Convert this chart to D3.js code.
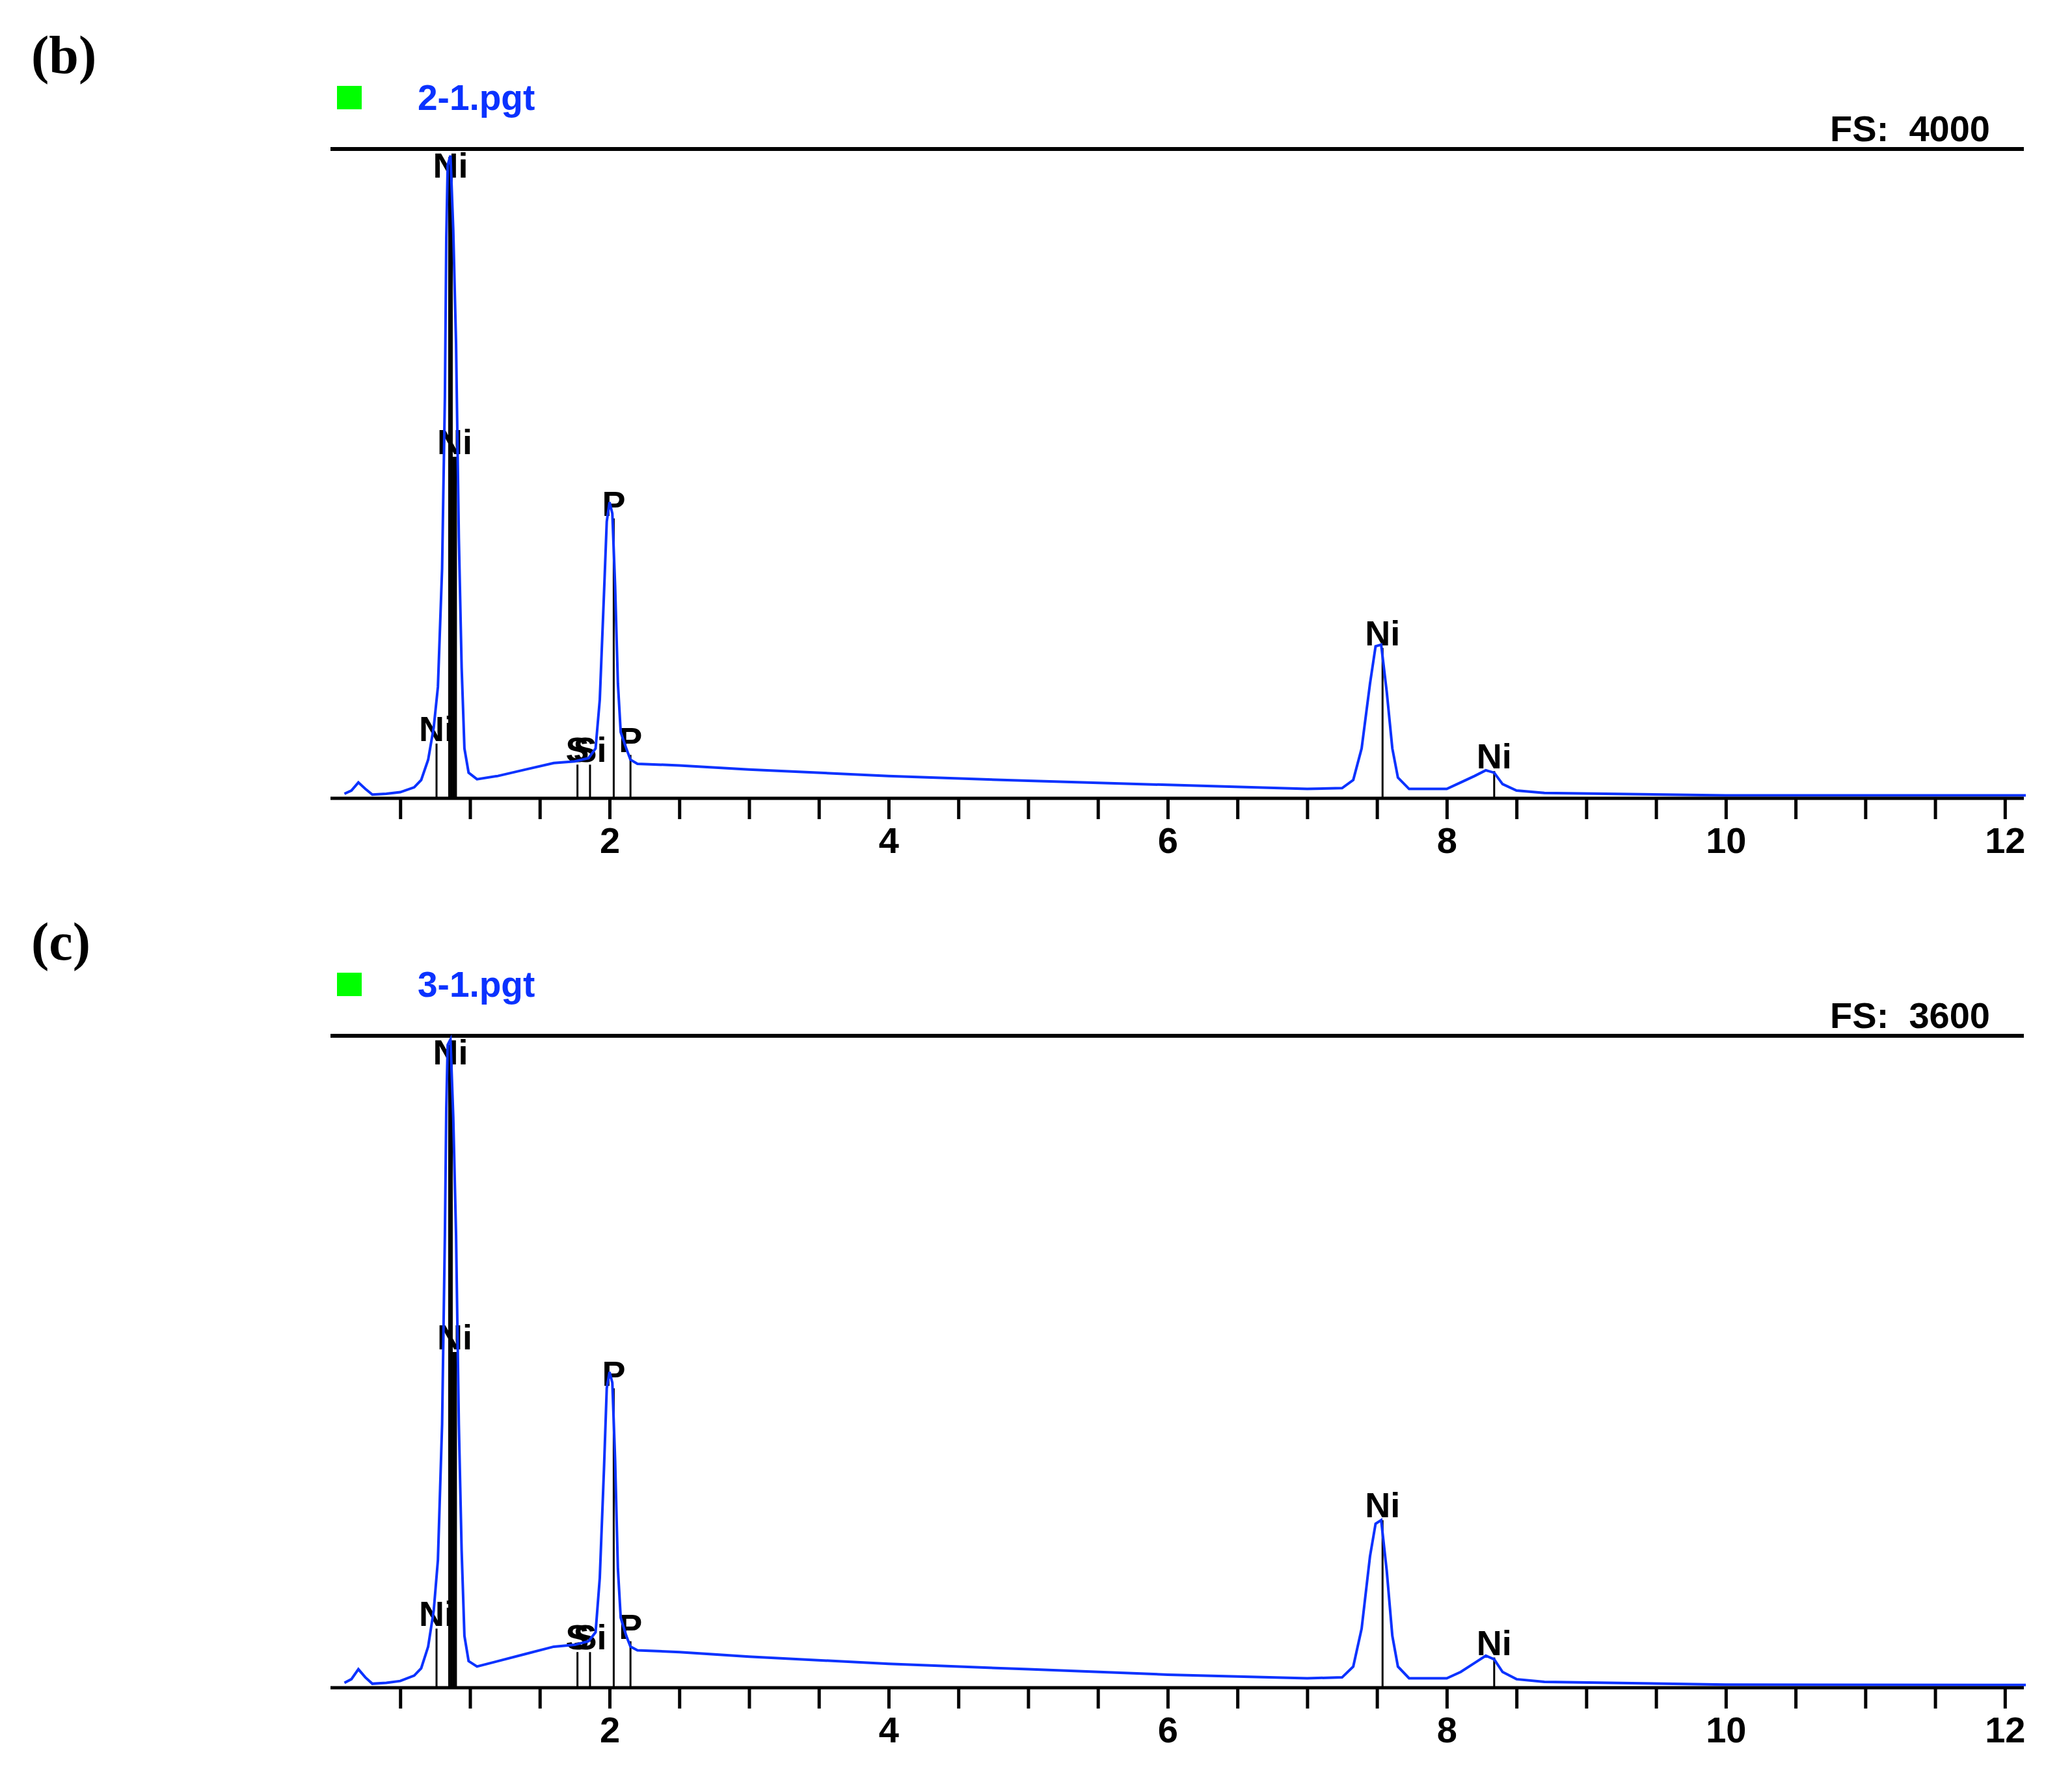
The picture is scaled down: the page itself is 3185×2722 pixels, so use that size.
<!DOCTYPE html>
<html><head><meta charset="utf-8">
<script src="https://cdn.jsdelivr.net/npm/d3@7"></script>
<style>body{margin:0;background:#fff}</style>
</head><body>
<svg id="chart" width="3185" height="2722"></svg>
<script>
// spectrum (b): [keV, counts]
const specB = [[0.1,20],[0.15,40],[0.2,90],[0.25,50],[0.3,15],[0.4,20],[0.5,30],[0.6,60],[0.65,105],[0.7,230],[0.74,430],[0.77,680],[0.8,1410],[0.82,2470],[0.83,3450],[0.84,3900],[0.86,3960],[0.88,3500],[0.9,2800],[0.92,1600],[0.94,800],[0.96,300],[0.99,150],[1.05,110],[1.2,130],[1.4,170],[1.6,210],[1.75,220],[1.85,240],[1.9,300],[1.93,600],[1.96,1250],[1.98,1700],[2.0,1820],[2.02,1750],[2.04,1300],[2.06,700],[2.08,400],[2.12,300],[2.15,230],[2.2,205],[2.5,195],[3.0,170],[4.0,130],[5.0,100],[6.0,75],[7.0,50],[7.25,55],[7.33,105],[7.39,300],[7.45,700],[7.49,930],[7.53,940],[7.57,650],[7.61,300],[7.65,120],[7.73,50],[8.0,50],[8.1,90],[8.2,130],[8.28,165],[8.34,150],[8.4,80],[8.5,40],[8.7,25],[10,10],[12.15,10]];
// spectrum (c)
const specC = [[0.1,20],[0.15,40],[0.2,95],[0.25,50],[0.3,15],[0.4,20],[0.5,30],[0.6,60],[0.65,100],[0.7,220],[0.74,420],[0.77,700],[0.8,1450],[0.82,2500],[0.83,3200],[0.84,3550],[0.86,3580],[0.88,3150],[0.9,2500],[0.92,1450],[0.94,750],[0.96,280],[0.99,140],[1.05,110],[1.2,140],[1.4,180],[1.6,220],[1.75,230],[1.85,250],[1.9,300],[1.93,600],[1.96,1200],[1.98,1650],[2.0,1740],[2.02,1680],[2.04,1250],[2.06,650],[2.08,380],[2.12,280],[2.15,220],[2.2,200],[2.5,190],[3.0,165],[4.0,125],[5.0,95],[6.0,65],[7.0,45],[7.25,50],[7.33,110],[7.39,320],[7.45,720],[7.49,900],[7.53,920],[7.57,640],[7.61,280],[7.65,110],[7.73,45],[8.0,45],[8.1,80],[8.2,130],[8.28,170],[8.34,150],[8.4,80],[8.5,40],[8.7,25],[10,10],[12.15,8]];
// element markers: keV, counts, label, thick
const markB = [[0.76,330,"Ni",0],[0.86,3950,"Ni",1],[0.89,2100,"Ni",1],[1.77,200,"S",0],[1.86,200,"Si",0],[2.03,1720,"P",0],[2.15,260,"P",0],[7.54,920,"Ni",0],[8.34,160,"Ni",0]];
const markC = [[0.76,320,"Ni",0],[0.86,3550,"Ni",1],[0.89,1850,"Ni",1],[1.77,190,"S",0],[1.86,190,"Si",0],[2.03,1650,"P",0],[2.15,250,"P",0],[7.54,920,"Ni",0],[8.34,160,"Ni",0]];
const panels = [
  {tag:"(b)", file:"2-1.pgt", fs:4000, spec:specB, marks:markB, top:229, base:1225},
  {tag:"(c)", file:"3-1.pgt", fs:3600, spec:specC, marks:markC, top:1592, base:2592}
];
const xTicks = [2,4,6,8,10,12];

const svg = d3.select("#chart");
const x = d3.scaleLinear().domain([0,12.15]).range([508,3114]);

panels.forEach(p => {
  const y = d3.scaleLinear().domain([0,p.fs]).range([p.base,p.top]);
  const g = svg.append("g");
  g.append("text").attr("x",48).attr("y",p.top-117).text(p.tag)
    .attr("font-family","Liberation Serif").attr("font-weight","bold").attr("font-size",82);
  g.append("rect").attr("x",518).attr("y",p.top-97).attr("width",38).attr("height",36).attr("fill","#00ff00");
  g.append("text").attr("x",642).attr("y",p.top-60).text(p.file)
    .attr("font-family","Liberation Sans").attr("font-weight","bold").attr("font-size",55).attr("fill","#0a32ff");
  g.append("text").attr("x",3059).attr("y",p.top-12).attr("text-anchor","end").text("FS:  " + p.fs)
    .attr("font-family","Liberation Sans").attr("font-weight","bold").attr("font-size",56).attr("xml:space","preserve");
  g.append("line").attr("x1",508).attr("x2",3111).attr("y1",p.top).attr("y2",p.top).attr("stroke","#000").attr("stroke-width",6);

  // markers
  p.marks.forEach(m => {
    g.append("line").attr("x1",x(m[0])).attr("x2",x(m[0])).attr("y1",p.base).attr("y2",y(m[1]))
      .attr("stroke","#000").attr("stroke-width",m[3]?7:3);
    g.append("text").attr("x",x(m[0])).attr("y",Math.max(y(m[1])-4, p.top+44)).attr("text-anchor","middle").text(m[2])
      .attr("font-family","Liberation Sans").attr("font-weight","bold").attr("font-size",54);
  });

  g.append("path").datum(p.spec)
    .attr("d", d3.line().x(d=>x(d[0])).y(d=>y(d[1])))
    .attr("fill","none").attr("stroke","#0a32ff").attr("stroke-width",4);

  const ax = d3.axisBottom(x).tickValues(d3.range(0.5,12.01,0.5)).tickSize(30)
    .tickFormat(d => xTicks.includes(d) ? d : "");
  const axg = g.append("g").attr("transform",`translate(0,${p.base})`).call(ax);
  axg.select(".domain").remove();
  axg.selectAll(".tick line").attr("stroke-width",5).attr("transform","translate(0,4)");
  axg.selectAll("text").attr("font-family","Liberation Sans").attr("font-weight","bold").attr("font-size",56).attr("dy","0.95em");
  g.append("line").attr("x1",508).attr("x2",3111).attr("y1",p.base+2).attr("y2",p.base+2).attr("stroke","#000").attr("stroke-width",5);
});
</script>
</body></html>
